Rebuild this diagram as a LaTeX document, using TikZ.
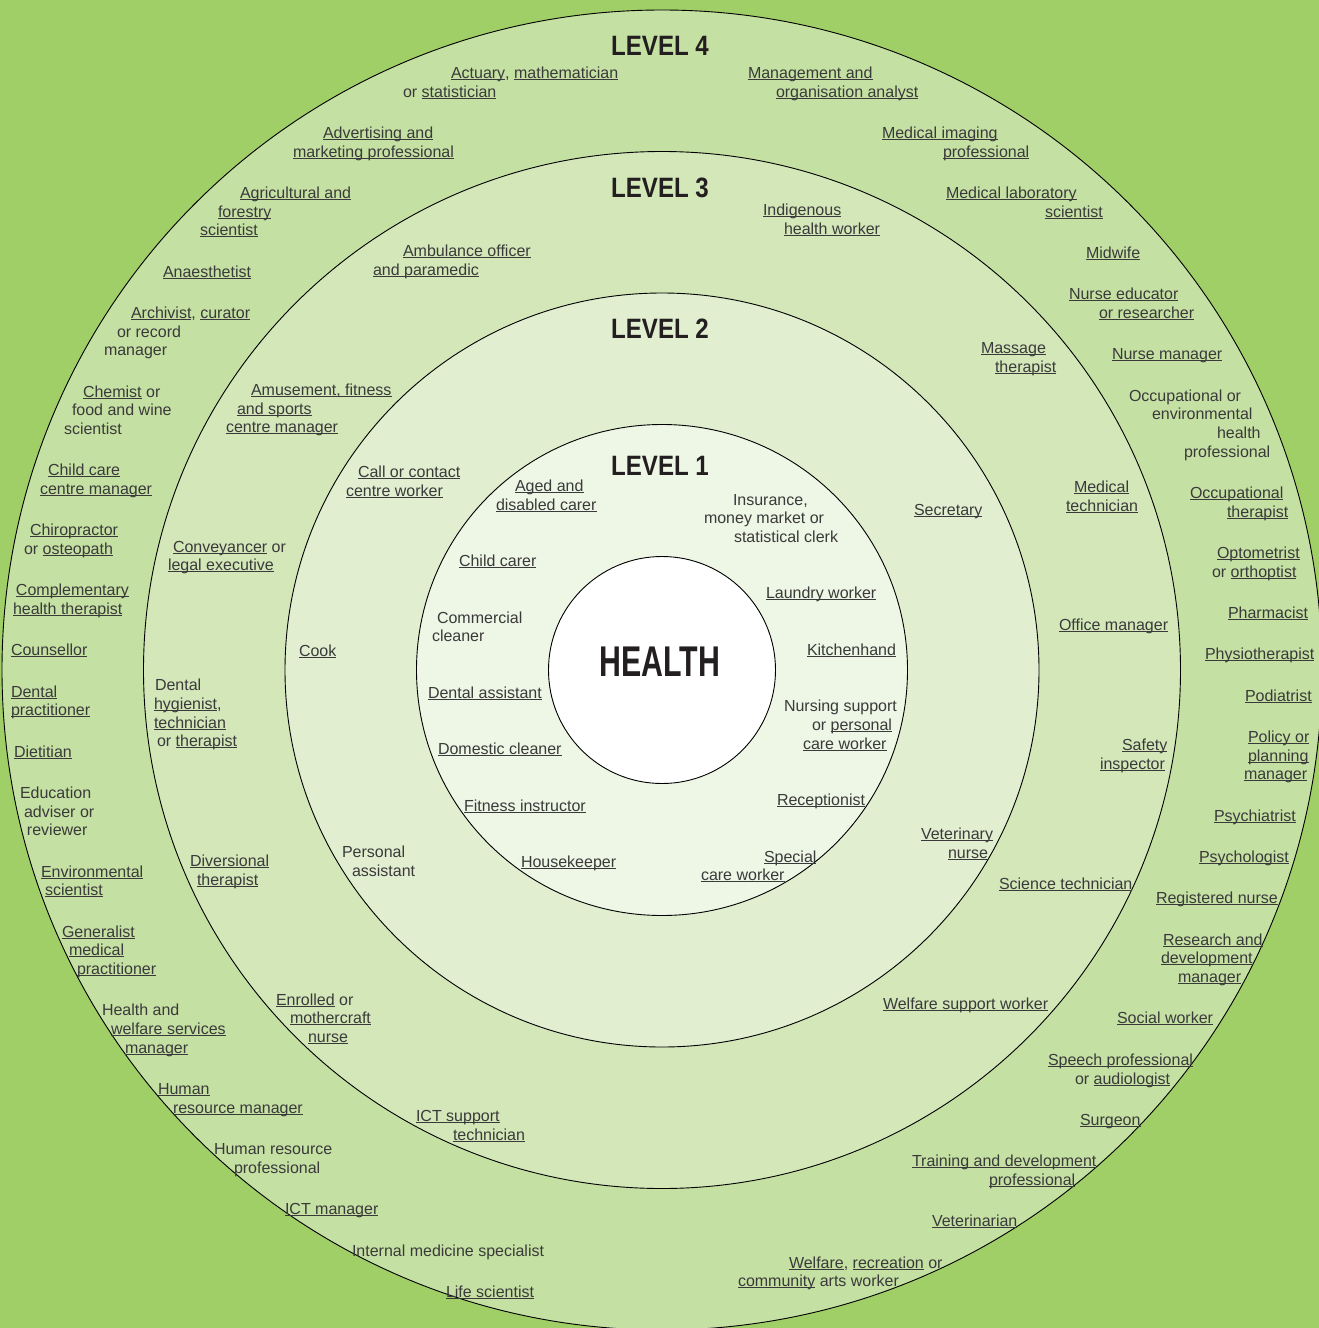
\documentclass[tikz,border=0pt]{standalone}
\usepackage{fontspec}
\usepackage{graphicx}
\setmainfont{Liberation Sans}
\definecolor{bgc}{HTML}{A0CE67}
\definecolor{cfour}{HTML}{C5E0A3}
\definecolor{cthree}{HTML}{D3E7B9}
\definecolor{ctwo}{HTML}{E1EED0}
\definecolor{cone}{HTML}{EEF6E5}
\definecolor{txt}{HTML}{3A3A3A}
\definecolor{headc}{HTML}{231F20}
\newcommand\ulk[1]{\setbox0=\hbox{#1}\rlap{\rule[-2pt]{\wd0}{0.9pt}}\box0\relax}
\newcommand\job[2]{\foreach[count=\kk] \xx/\yy/\tx in {#2}{\node[lbl] (#1-\kk) at (\xx,\yy+6) {\tx};}}
\tikzset{
  lbl/.style={anchor=base west, inner sep=0pt, outer sep=0pt, text=txt, font=\fontsize{16}{19}\selectfont},
  ring/.style={circle, draw=black, line width=0.9pt, inner sep=0pt, outer sep=0pt},
  head/.style={anchor=base, inner sep=0pt, text=headc, font=\bfseries\fontsize{28}{30}\selectfont},
}
\begin{document}
\begin{tikzpicture}[x=1pt,y=-1pt]
\useasboundingbox (0,0) rectangle (1319,1328);
\fill[bgc] (0,0) rectangle (1319,1328);
\node[ring, fill=cfour, minimum size=1320pt] (ring4) at (662,670) {};
\node[ring, fill=cthree, minimum size=1037pt] (ring3) at (662,670) {};
\node[ring, fill=ctwo, minimum size=754pt] (ring2) at (662,670) {};
\node[ring, fill=cone, minimum size=491pt] (ring1) at (662,670) {};
\node[ring, fill=white, minimum size=227pt] (core) at (662,670) {};

\node[head] (lev4) at (660,55) {\scalebox{0.86}[1]{LEVEL 4}};
\node[head] (lev3) at (660,197) {\scalebox{0.86}[1]{LEVEL 3}};
\node[head] (lev2) at (660,338) {\scalebox{0.86}[1]{LEVEL 2}};
\node[head] (lev1) at (660,475) {\scalebox{0.86}[1]{LEVEL 1}};
\node[head, font=\bfseries\fontsize{43}{45}\selectfont] (health) at (660,676) {\scalebox{0.705}[1]{HEALTH}};

% Level 4
\job{actuary}{451/72/{\ulk{Actuary}, \ulk{mathematician}}, 403/91/{or \ulk{statistician}}}
\job{mgmt}{748/72/{\ulk{Management and}}, 776/91/{\ulk{organisation analyst}}}
\job{advert}{323/132/{\ulk{Advertising and}}, 293/151/{\ulk{marketing professional}}}
\job{medimg}{882/132/{\ulk{Medical imaging}}, 943/151/{\ulk{professional}}}
\job{agri}{240/192/{\ulk{Agricultural and}}, 218/211/{\ulk{forestry}}, 200/229/{\ulk{scientist}}}
\job{medlab}{946/192/{\ulk{Medical laboratory}}, 1045/211/{\ulk{scientist}}}
\job{anaes}{163/271/{\ulk{Anaesthetist}}}
\job{midwife}{1086/252/{\ulk{Midwife}}}
\job{archivist}{131/312/{\ulk{Archivist}, \ulk{curator}}, 117/331/{or record}, 104/349/{manager}}
\job{nurseed}{1069/293/{\ulk{Nurse educator}}, 1099/312/{\ulk{or researcher}}}
\job{nursemgr}{1112/353/{\ulk{Nurse manager}}}
\job{chemist}{83/391/{\ulk{Chemist} or}, 72/409/{food and wine}, 64/428/{scientist}}
\job{occenv}{1129/395/{Occupational or}, 1152/413/{environmental}, 1217/432/{health}, 1184/451/{professional}}
\job{childcm}{48/469/{\ulk{Child care}}, 40/488/{\ulk{centre manager}}}
\job{occther}{1190/492/{\ulk{Occupational}}, 1227/511/{\ulk{therapist}}}
\job{chiro}{30/529/{\ulk{Chiropractor}}, 24/548/{or \ulk{osteopath}}}
\job{optom}{1217/552/{\ulk{Optometrist}}, 1212/571/{or \ulk{orthoptist}}}
\job{complem}{16/589/{\ulk{Complementary}}, 13/608/{\ulk{health therapist}}}
\job{pharm}{1228/612/{\ulk{Pharmacist}}}
\job{counsel}{11/649/{\ulk{Counsellor}}}
\job{physio}{1205/653/{\ulk{Physiotherapist}}}
\job{dentprac}{11/691/{\ulk{Dental}}, 11/709/{\ulk{practitioner}}}
\job{podiat}{1245/695/{\ulk{Podiatrist}}}
\job{dietit}{14/751/{\ulk{Dietitian}}}
\job{policy}{1248/736/{\ulk{Policy or}}, 1248/755/{\ulk{planning}}, 1244/773/{\ulk{manager}}}
\job{educ}{20/792/{Education}, 24/811/{adviser or}, 27/829/{reviewer}}
\job{psychiat}{1214/815/{\ulk{Psychiatrist}}}
\job{envsci}{41/871/{\ulk{Environmental}}, 45/889/{\ulk{scientist}}}
\job{psychol}{1199/856/{\ulk{Psychologist}}}
\job{regnurse}{1156/897/{\ulk{Registered nurse}}}
\job{genmed}{62/931/{\ulk{Generalist}}, 69/949/{\ulk{medical}}, 77/968/{\ulk{practitioner}}}
\job{research}{1163/939/{\ulk{Research and}}, 1161/957/{\ulk{development}}, 1178/976/{\ulk{manager}}}
\job{hwsm}{102/1009/{Health and}, 111/1028/{\ulk{welfare services}}, 125/1047/{\ulk{manager}}}
\job{social}{1117/1017/{\ulk{Social worker}}}
\job{speech}{1048/1059/{\ulk{Speech professional}}, 1075/1078/{or \ulk{audiologist}}}
\job{hrm}{158/1088/{\ulk{Human}}, 173/1107/{\ulk{resource manager}}}
\job{surgeon}{1080/1119/{\ulk{Surgeon}}}
\job{hrp}{214/1148/{Human resource}, 234/1167/{professional}}
\job{training}{912/1160/{\ulk{Training and development}}, 989/1179/{\ulk{professional}}}
\job{ictm}{285/1208/{\ulk{ICT manager}}}
\job{vet}{932/1220/{\ulk{Veterinarian}}}
\job{intmed}{352/1250/{Internal medicine specialist}}
\job{welfare}{789/1262/{\ulk{Welfare}, \ulk{recreation} or}, 738/1280/{\ulk{community} arts worker}}
\job{life}{446/1291/{\ulk{Life scientist}}}

% Level 3
\job{indig}{763/209/{\ulk{Indigenous}}, 784/228/{\ulk{health worker}}}
\job{ambul}{403/250/{\ulk{Ambulance officer}}, 373/269/{\ulk{and paramedic}}}
\job{massage}{981/347/{\ulk{Massage}}, 995/366/{\ulk{therapist}}}
\job{amuse}{251/389/{\ulk{Amusement, fitness}}, 237/408/{\ulk{and sports}}, 226/426/{\ulk{centre manager}}}
\job{medtech}{1074/486/{\ulk{Medical}}, 1066/505/{\ulk{technician}}}
\job{convey}{173/546/{\ulk{Conveyancer} or}, 168/564/{\ulk{legal executive}}}
\job{office}{1059/624/{\ulk{Office manager}}}
\job{dentalt}{155/684/{Dental}, 154/703/{\ulk{hygienist},}, 154/722/{\ulk{technician}}, 157/740/{or \ulk{therapist}}}
\job{safety}{1122/744/{\ulk{Safety}}, 1100/763/{\ulk{inspector}}}
\job{divers}{190/860/{\ulk{Diversional}}, 197/879/{\ulk{therapist}}}
\job{scitech}{999/883/{\ulk{Science technician}}}
\job{enrolled}{276/999/{\ulk{Enrolled} or}, 290/1017/{\ulk{mothercraft}}, 308/1036/{\ulk{nurse}}}
\job{welfsup}{883/1003/{\ulk{Welfare support worker}}}
\job{ictsup}{416/1115/{\ulk{ICT support}}, 453/1134/{\ulk{technician}}}

% Level 2
\job{callc}{358/471/{\ulk{Call or contact}}, 346/490/{\ulk{centre worker}}}
\job{secret}{914/509/{\ulk{Secretary}}}
\job{cook}{299/650/{\ulk{Cook}}}
\job{persasst}{342/851/{Personal}, 352/870/{assistant}}
\job{vetnurse}{921/833/{\ulk{Veterinary}}, 948/852/{\ulk{nurse}}}

% Level 1
\job{aged}{515/485/{\ulk{Aged and}}, 496/504/{\ulk{disabled carer}}}
\job{insur}{733/499/{Insurance,}, 704/517/{money market or}, 734/536/{statistical clerk}}
\job{childc}{459/560/{\ulk{Child carer}}}
\job{laundry}{766/592/{\ulk{Laundry worker}}}
\job{commcl}{437/617/{Commercial}, 432/635/{cleaner}}
\job{kitchen}{807/649/{\ulk{Kitchenhand}}}
\job{dentasst}{428/692/{\ulk{Dental assistant}}}
\job{nursing}{784/705/{Nursing support}, 812/724/{or \ulk{personal}}, 803/743/{\ulk{care worker}}}
\job{domcl}{438/748/{\ulk{Domestic cleaner}}}
\job{fitness}{464/805/{\ulk{Fitness instructor}}}
\job{recept}{777/799/{\ulk{Receptionist}}}
\job{housek}{521/861/{\ulk{Housekeeper}}}
\job{special}{764/856/{\ulk{Special}}, 701/874/{\ulk{care worker}}}
\end{tikzpicture}
\end{document}
